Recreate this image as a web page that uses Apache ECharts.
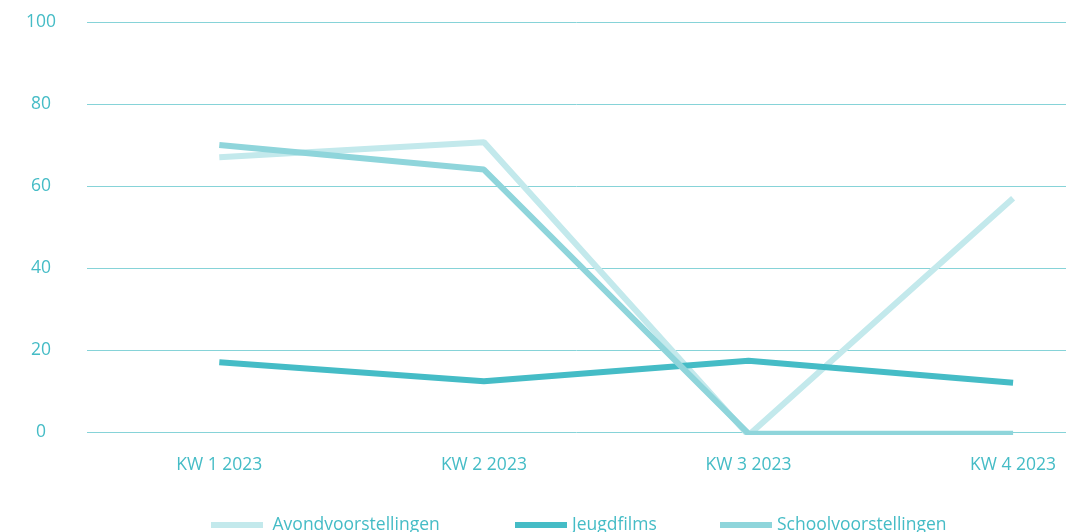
<!DOCTYPE html>
<html lang="nl">
<head>
  <meta charset="UTF-8">
  <title>Voorstellingen per kwartaal</title>
  <script src="https://cdn.jsdelivr.net/npm/echarts@6/dist/echarts.min.js"></script>
  <style>
    html, body { margin: 0; padding: 0; background: #fff; }
    #main { width: 1070px; height: 532px; }
  </style>
</head>
<body>
<div id="main"></div>
<script>
  var categories = ['KW 1 2023', 'KW 2 2023', 'KW 3 2023', 'KW 4 2023'];
  var seriesNames = [' Avondvoorstellingen', 'Jeugdfilms', 'Schoolvoorstellingen'];
  var avond = [67, 70.7, -0.8, 57];
  var jeugd = [17, 12.4, 17.4, 12];
  var school = [70, 64, -0.4, -0.4];
  var yTicks = [0, 20, 40, 60, 80, 100];

  var labelColor = '#45bcc6';
  var font = '"Open Sans", sans-serif';
  // the original font is wider, so each legend item is placed on its own
  var legendLefts = [206, 510, 715];

  function pairs(arr) {
    return arr.map(function (v, i) { return [i, v]; });
  }

  function line(name, data, color) {
    return {
      name: name,
      type: 'line',
      data: pairs(data),
      symbol: 'none',
      color: color,
      lineStyle: { width: 6, color: color },
      itemStyle: { color: color }
    };
  }

  var chart = echarts.init(document.getElementById('main'));
  chart.setOption({
    animation: false,
    grid: { left: 87, right: 4, top: 22, bottom: 100 },
    legend: seriesNames.map(function (n, i) {
      return {
        left: legendLefts[i],
        top: 511,
        icon: 'rect',
        itemWidth: 52,
        itemHeight: 6,
        data: [n],
        textStyle: { color: labelColor, fontSize: 17.5, fontFamily: font }
      };
    }),
    xAxis: {
      type: 'value',
      min: -0.5,
      max: 3.2,
      axisLine: { show: false },
      axisTick: { show: false },
      splitLine: { show: false },
      axisLabel: {
        customValues: [0, 1, 2, 3],
        formatter: function (v) { return categories[Math.round(v)]; },
        color: labelColor,
        fontSize: 17.5,
        fontFamily: font,
        margin: 24
      }
    },
    yAxis: {
      type: 'value',
      min: yTicks[0],
      max: yTicks[yTicks.length - 1],
      interval: 20,
      axisLine: { show: false },
      axisTick: { show: false },
      splitLine: { lineStyle: { color: '#86d3d8', width: 1 } },
      axisLabel: {
        color: labelColor,
        fontSize: 17.5,
        fontFamily: font,
        align: 'center',
        margin: 46,
        verticalAlign: 'middle',
        padding: [0, 0, 2, 0]
      }
    },
    series: [
      line(seriesNames[0], avond, '#c3e9ec'),
      line(seriesNames[1], jeugd, '#45bcc6'),
      line(seriesNames[2], school, '#8fd5db')
    ]
  });
</script>
</body>
</html>
